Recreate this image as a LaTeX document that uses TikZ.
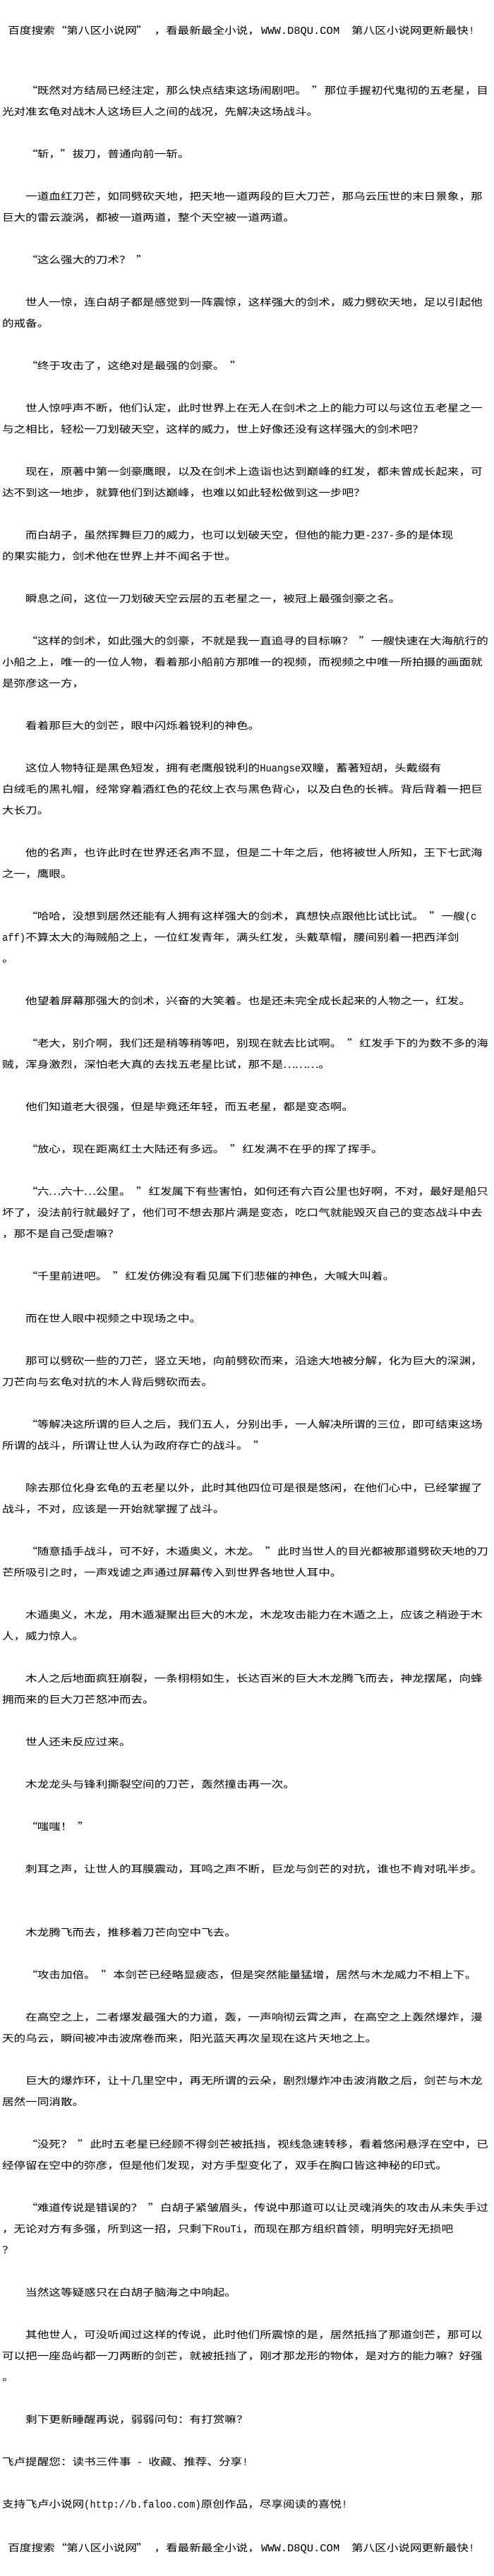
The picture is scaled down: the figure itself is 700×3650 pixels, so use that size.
\documentclass[tikz,border=0pt]{standalone}
\usepackage{fontspec}
\setmainfont{Noto Sans CJK SC}[FakeStretch=1.186]
\newfontfamily\monof{Liberation Mono}[FakeStretch=0.92]
\newcommand\qo{\makebox[16.6pt][c]{\hspace*{1.5pt}“}}
\newcommand\qc{\makebox[16.6pt][c]{”\hspace*{1.5pt}}}
\newcommand\hs{\hspace*{8.3pt}}
\newcommand\dotsq{\makebox[16.6pt]{…}}
\newcommand\asc[1]{{\fontsize{15}{15}\monof #1}}
\newcommand\LN[3]{\node (n#1) at (#2,{133.3+30*#1}) {#3};}
\begin{document}
\begin{tikzpicture}[x=1pt,y=-1pt,
  every node/.style={inner sep=0pt,outer sep=0pt,anchor=base west,text=black,font=\fontsize{14}{14}\selectfont}]
\useasboundingbox (0,0) rectangle (700,3650);
\fill[white] (0,0) rectangle (700,3650);
% header
\node (h1) at (11.3,48.3) {百度搜索\qo 第八区小说网\qc};
\node (h2) at (218.5,48.3) {，看最新最全小说，};
\node (h3) at (370,48.3) {\scalebox{1.12}[1]{\asc{WWW.D8QU.COM}}};
\node (h4) at (498,48.3) {第八区小说网更新最快\asc{!}};
% body
\LN{0}{36.2}{\qo 既然对方结局已经注定，那么快点结束这场闹剧吧。\hs\qc 那位手握初代鬼彻的五老星，目}
\LN{1}{3}{光对准玄龟对战木人这场巨人之间的战况，先解决这场战斗。}
\LN{3}{36.2}{\qo 斩，\qc 拔刀，普通向前一斩。}
\LN{5}{36.2}{一道血红刀芒，如同劈砍天地，把天地一道两段的巨大刀芒，那乌云压世的末日景象，那}
\LN{6}{3}{巨大的雷云漩涡，都被一道两道，整个天空被一道两道。}
\LN{8}{36.2}{\qo 这么强大的刀术？\hs\qc}
\LN{10}{36.2}{世人一惊，连白胡子都是感觉到一阵震惊，这样强大的剑术，威力劈砍天地，足以引起他}
\LN{11}{3}{的戒备。}
\LN{13}{36.2}{\qo 终于攻击了，这绝对是最强的剑豪。\hs\qc}
\LN{15}{36.2}{世人惊呼声不断，他们认定，此时世界上在无人在剑术之上的能力可以与这位五老星之一}
\LN{16}{3}{与之相比，轻松一刀划破天空，这样的威力，世上好像还没有这样强大的剑术吧？}
\LN{18}{36.2}{现在，原著中第一剑豪鹰眼，以及在剑术上造诣也达到巅峰的红发，都未曾成长起来，可}
\LN{19}{3}{达不到这一地步，就算他们到达巅峰，也难以如此轻松做到这一步吧？}
\LN{21}{36.2}{而白胡子，虽然挥舞巨刀的威力，也可以划破天空，但他的能力更\asc{-237-}多的是体现}
\LN{22}{3}{的果实能力，剑术他在世界上并不闻名于世。}
\LN{24}{36.2}{瞬息之间，这位一刀划破天空云层的五老星之一，被冠上最强剑豪之名。}
\LN{26}{36.2}{\qo 这样的剑术，如此强大的剑豪，不就是我一直追寻的目标嘛？\hs\qc 一艘快速在大海航行的}
\LN{27}{3}{小船之上，唯一的一位人物，看着那小船前方那唯一的视频，而视频之中唯一所拍摄的画面就}
\LN{28}{3}{是弥彦这一方，}
\LN{30}{36.2}{看着那巨大的剑芒，眼中闪烁着锐利的神色。}
\LN{32}{36.2}{这位人物特征是黑色短发，拥有老鹰般锐利的\asc{Huangse}双瞳，蓄著短胡，头戴缀有}
\LN{33}{3}{白绒毛的黑礼帽，经常穿着酒红色的花纹上衣与黑色背心，以及白色的长裤。背后背着一把巨}
\LN{34}{3}{大长刀。}
\LN{36}{36.2}{他的名声，也许此时在世界还名声不显，但是二十年之后，他将被世人所知，王下七武海}
\LN{37}{3}{之一，鹰眼。}
\LN{39}{36.2}{\qo 哈哈，没想到居然还能有人拥有这样强大的剑术，真想快点跟他比试比试。\hs\qc 一艘\asc{(c}}
\LN{40}{3}{\asc{aff)}不算太大的海贼船之上，一位红发青年，满头红发，头戴草帽，腰间别着一把西洋剑}
\LN{41}{3}{。}
\LN{43}{36.2}{他望着屏幕那强大的剑术，兴奋的大笑着。也是还未完全成长起来的人物之一，红发。}
\LN{45}{36.2}{\qo 老大，别介啊，我们还是稍等稍等吧，别现在就去比试啊。\hs\qc 红发手下的为数不多的海}
\LN{46}{3}{贼，浑身激烈，深怕老大真的去找五老星比试，那不是\dotsq\dotsq\dotsq 。}
\LN{48}{36.2}{他们知道老大很强，但是毕竟还年轻，而五老星，都是变态啊。}
\LN{50}{36.2}{\qo 放心，现在距离红土大陆还有多远。\hs\qc 红发满不在乎的挥了挥手。}
\LN{52}{36.2}{\qo 六\dotsq 六十\dotsq 公里。\hs\qc 红发属下有些害怕，如何还有六百公里也好啊，不对，最好是船只}
\LN{53}{3}{坏了，没法前行就最好了，他们可不想去那片满是变态，吃口气就能毁灭自己的变态战斗中去}
\LN{54}{3}{，那不是自己受虐嘛？}
\LN{56}{36.2}{\qo 千里前进吧。\hs\qc 红发仿佛没有看见属下们悲催的神色，大喊大叫着。}
\LN{58}{36.2}{而在世人眼中视频之中现场之中。}
\LN{60}{36.2}{那可以劈砍一些的刀芒，竖立天地，向前劈砍而来，沿途大地被分解，化为巨大的深渊，}
\LN{61}{3}{刀芒向与玄龟对抗的木人背后劈砍而去。}
\LN{63}{36.2}{\qo 等解决这所谓的巨人之后，我们五人，分别出手，一人解决所谓的三位，即可结束这场}
\LN{64}{3}{所谓的战斗，所谓让世人认为政府存亡的战斗。\hs\qc}
\LN{66}{36.2}{除去那位化身玄龟的五老星以外，此时其他四位可是很是悠闲，在他们心中，已经掌握了}
\LN{67}{3}{战斗，不对，应该是一开始就掌握了战斗。}
\LN{69}{36.2}{\qo 随意插手战斗，可不好，木遁奥义，木龙。\hs\qc 此时当世人的目光都被那道劈砍天地的刀}
\LN{70}{3}{芒所吸引之时，一声戏谑之声通过屏幕传入到世界各地世人耳中。}
\LN{72}{36.2}{木遁奥义，木龙，用木遁凝聚出巨大的木龙，木龙攻击能力在木遁之上，应该之稍逊于木}
\LN{73}{3}{人，威力惊人。}
\LN{75}{36.2}{木人之后地面疯狂崩裂，一条栩栩如生，长达百米的巨大木龙腾飞而去，神龙摆尾，向蜂}
\LN{76}{3}{拥而来的巨大刀芒怒冲而去。}
\LN{78}{36.2}{世人还未反应过来。}
\LN{80}{36.2}{木龙龙头与锋利撕裂空间的刀芒，轰然撞击再一次。}
\LN{82}{36.2}{\qo 嗤嗤！\hs\qc}
\LN{84}{36.2}{刺耳之声，让世人的耳膜震动，耳鸣之声不断，巨龙与剑芒的对抗，谁也不肯对吼半步。}
\LN{87}{36.2}{木龙腾飞而去，推移着刀芒向空中飞去。}
\LN{89}{36.2}{\qo 攻击加倍。\hs\qc 本剑芒已经略显疲态，但是突然能量猛增，居然与木龙威力不相上下。}
\LN{91}{36.2}{在高空之上，二者爆发最强大的力道，轰，一声响彻云霄之声，在高空之上轰然爆炸，漫}
\LN{92}{3}{天的乌云，瞬间被冲击波席卷而来，阳光蓝天再次呈现在这片天地之上。}
\LN{94}{36.2}{巨大的爆炸环，让十几里空中，再无所谓的云朵，剧烈爆炸冲击波消散之后，剑芒与木龙}
\LN{95}{3}{居然一同消散。}
\LN{97}{36.2}{\qo 没死？\hs\qc 此时五老星已经顾不得剑芒被抵挡，视线急速转移，看着悠闲悬浮在空中，已}
\LN{98}{3}{经停留在空中的弥彦，但是他们发现，对方手型变化了，双手在胸口皆这神秘的印式。}
\LN{100}{36.2}{\qo 难道传说是错误的？\hs\qc 白胡子紧皱眉头，传说中那道可以让灵魂消失的攻击从未失手过}
\LN{101}{3}{，无论对方有多强，所到这一招，只剩下\asc{RouTi}，而现在那方组织首领，明明完好无损吧}
\LN{102}{3}{？}
\LN{104}{36.2}{当然这等疑惑只在白胡子脑海之中响起。}
\LN{106}{36.2}{其他世人，可没听闻过这样的传说，此时他们所震惊的是，居然抵挡了那道剑芒，那可以}
\LN{107}{3}{可以把一座岛屿都一刀两断的剑芒，就被抵挡了，刚才那龙形的物体，是对方的能力嘛？好强}
\LN{108}{3}{。}
\LN{110}{36.2}{剩下更新睡醒再说，弱弱问句：有打赏嘛？}
\LN{112}{3}{飞卢提醒您：读书三件事\asc{ - }收藏、推荐、分享\asc{!}}
\LN{114}{3}{支持飞卢小说网\asc{(http://b.faloo.com)}原创作品，尽享阅读的喜悦\asc{!}}
% footer
\node (f1) at (11.3,3615.3) {百度搜索\qo 第八区小说网\qc};
\node (f2) at (218.5,3615.3) {，看最新最全小说，};
\node (f3) at (370,3615.3) {\scalebox{1.12}[1]{\asc{WWW.D8QU.COM}}};
\node (f4) at (498,3615.3) {第八区小说网更新最快\asc{!}};
\end{tikzpicture}
\end{document}
